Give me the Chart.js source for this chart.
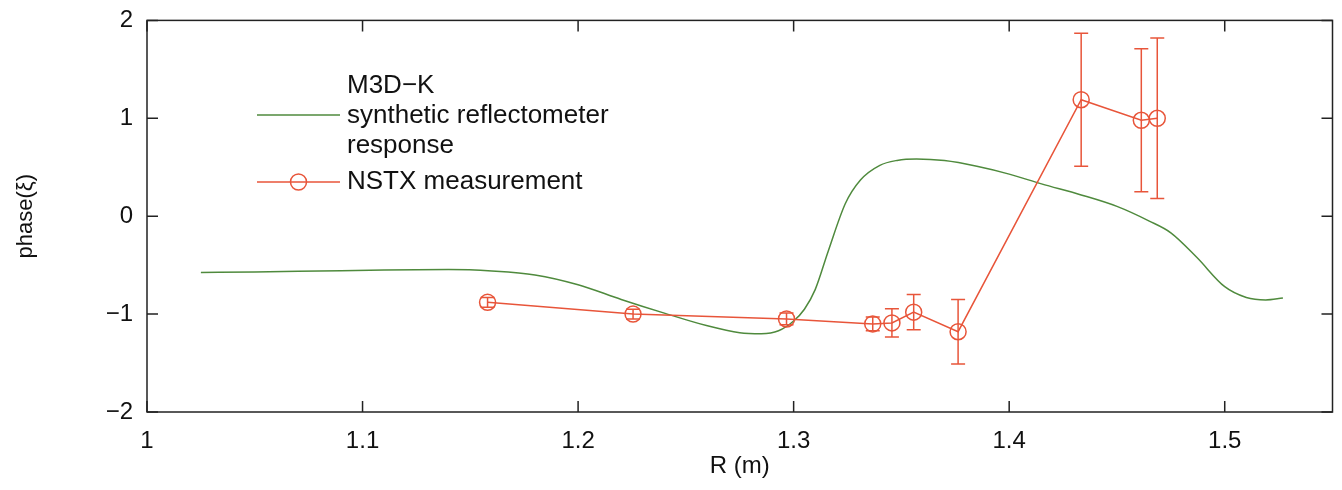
<!DOCTYPE html>
<html>
<head>
<meta charset="utf-8">
<script src="https://cdn.jsdelivr.net/npm/chart.js@4.4.1/dist/chart.umd.min.js"></script>
<style>
  html, body { margin: 0; padding: 0; background: #fff; }
  #wrap { width: 1342px; height: 490px; }
</style>
</head>
<body>
<div id="wrap"><canvas id="phaseChart" width="1342" height="490"></canvas></div>
<script>
// M3D-K synthetic reflectometer response (radius in m, phase)
const modelR = [1.025, 1.05, 1.08, 1.11, 1.14, 1.16, 1.18, 1.20, 1.22, 1.24, 1.26, 1.275, 1.285,
  1.293, 1.30, 1.305, 1.31, 1.316, 1.324, 1.331, 1.34, 1.348, 1.357, 1.37, 1.385, 1.40, 1.415,
  1.433, 1.45, 1.465, 1.475, 1.487, 1.50, 1.51, 1.519, 1.527];
const modelPhase = [-0.575, -0.57, -0.56, -0.55, -0.545, -0.56, -0.60, -0.70, -0.85, -0.99, -1.12, -1.19, -1.20,
  -1.17, -1.07, -0.95, -0.75, -0.36, 0.13, 0.37, 0.52, 0.57, 0.585, 0.568, 0.51, 0.43, 0.33,
  0.22, 0.10, -0.05, -0.17, -0.42, -0.72, -0.83, -0.855, -0.835];

// NSTX measurement with error bar half-widths
const measR = [1.158, 1.2255, 1.2967, 1.3367, 1.3456, 1.3557, 1.3763, 1.4334, 1.4613, 1.4687];
const measPhase = [-0.88, -1.00, -1.05, -1.10, -1.09, -0.98, -1.18, 1.19, 0.98, 1.00];
const measErr = [0.05, 0.05, 0.06, 0.07, 0.145, 0.18, 0.33, 0.68, 0.73, 0.82];

// axis ticks
const xTickValues = [1, 1.1, 1.2, 1.3, 1.4, 1.5];
const yTickValues = [-2, -1, 0, 1, 2];

const legendLines = ['M3D\u2212K', 'synthetic reflectometer', 'response'];
const legendMeas = 'NSTX measurement';

const GREEN = '#4f8a3d';
const RED = '#e8553a';
const FONT = '"Liberation Sans", Arial, Helvetica, sans-serif';

function fmtTick(v) {
  const s = String(Math.round(v * 100) / 100);
  return s.replace('-', '\u2212');
}

// box around the plot with inward ticks on all four sides
const framePlugin = {
  id: 'frame',
  afterDraw(chart) {
    const { ctx, chartArea: a, scales } = chart;
    const tl = 11;
    ctx.save();
    ctx.strokeStyle = '#222';
    ctx.lineWidth = 1.5;
    ctx.strokeRect(a.left, a.top, a.right - a.left, a.bottom - a.top);
    ctx.beginPath();
    xTickValues.forEach(v => {
      const x = scales.x.getPixelForValue(v);
      ctx.moveTo(x, a.bottom); ctx.lineTo(x, a.bottom - tl);
      ctx.moveTo(x, a.top); ctx.lineTo(x, a.top + tl);
    });
    yTickValues.forEach(v => {
      const y = scales.y.getPixelForValue(v);
      ctx.moveTo(a.left, y); ctx.lineTo(a.left + tl, y);
      ctx.moveTo(a.right, y); ctx.lineTo(a.right - tl, y);
    });
    ctx.stroke();
    ctx.restore();
  }
};

// vertical error bars with caps for the measurement series
const errorBarPlugin = {
  id: 'errorBars',
  afterDatasetsDraw(chart) {
    const { ctx, scales } = chart;
    const cap = 7;
    ctx.save();
    ctx.strokeStyle = RED;
    ctx.lineWidth = 1.5;
    ctx.beginPath();
    measR.forEach((r, i) => {
      const x = scales.x.getPixelForValue(r);
      const yTop = scales.y.getPixelForValue(measPhase[i] + measErr[i]);
      const yBot = scales.y.getPixelForValue(measPhase[i] - measErr[i]);
      ctx.moveTo(x, yTop); ctx.lineTo(x, yBot);
      ctx.moveTo(x - cap, yTop); ctx.lineTo(x + cap, yTop);
      ctx.moveTo(x - cap, yBot); ctx.lineTo(x + cap, yBot);
    });
    ctx.stroke();
    ctx.restore();
  }
};

// legend box in the upper left of the plot
const legendPlugin = {
  id: 'sideLegend',
  afterDraw(chart) {
    const ctx = chart.ctx;
    const x0 = 257, x1 = 340, tx = 347;
    ctx.save();
    ctx.lineWidth = 1.5;
    ctx.strokeStyle = GREEN;
    ctx.beginPath(); ctx.moveTo(x0, 115); ctx.lineTo(x1, 115); ctx.stroke();
    ctx.strokeStyle = RED;
    ctx.beginPath(); ctx.moveTo(x0, 182); ctx.lineTo(x1, 182); ctx.stroke();
    ctx.beginPath(); ctx.arc((x0 + x1) / 2, 182, 8, 0, Math.PI * 2); ctx.stroke();
    ctx.fillStyle = '#111';
    ctx.font = '26px ' + FONT;
    ctx.textBaseline = 'middle';
    ctx.textAlign = 'left';
    legendLines.forEach((t, i) => ctx.fillText(t, tx, 86 + i * 30));
    ctx.fillText(legendMeas, tx, 182);
    ctx.restore();
  }
};

const ctx = document.getElementById('phaseChart').getContext('2d');
new Chart(ctx, {
  type: 'line',
  data: {
    datasets: [
      {
        label: legendMeas,
        data: measR.map((r, i) => ({ x: r, y: measPhase[i] })),
        borderColor: RED,
        borderWidth: 1.5,
        pointRadius: 8,
        pointBorderWidth: 1.5,
        pointBorderColor: RED,
        pointBackgroundColor: 'rgba(0,0,0,0)',
        tension: 0
      },
      {
        label: legendLines.join(' '),
        data: modelR.map((r, i) => ({ x: r, y: modelPhase[i] })),
        borderColor: GREEN,
        borderWidth: 1.5,
        pointRadius: 0,
        cubicInterpolationMode: 'monotone'
      }
    ]
  },
  options: {
    responsive: false,
    animation: false,
    devicePixelRatio: 1,
    layout: { padding: { top: 18, right: 8, left: 0, bottom: 0 } },
    plugins: {
      legend: { display: false },
      tooltip: { enabled: false }
    },
    scales: {
      x: {
        type: 'linear',
        min: 1,
        max: 1.55,
        afterBuildTicks: s => { s.ticks = xTickValues.map(v => ({ value: v })); },
        afterFit: s => { s.height = 78; },
        grid: { display: false },
        border: { display: false },
        ticks: {
          color: '#111',
          font: { family: FONT, size: 24 },
          padding: 7,
          maxRotation: 0,
          callback: v => fmtTick(v)
        },
        title: {
          display: true,
          text: 'R (m)',
          color: '#111',
          font: { family: FONT, size: 24 },
          padding: { top: 0, bottom: 9 }
        }
      },
      y: {
        type: 'linear',
        min: -2,
        max: 2,
        afterBuildTicks: s => { s.ticks = yTickValues.map(v => ({ value: v })); },
        afterFit: s => { s.width = 147; },
        grid: { display: false },
        border: { display: false },
        ticks: {
          color: '#111',
          font: { family: FONT, size: 24 },
          padding: 6,
          callback: v => fmtTick(v)
        },
        title: {
          display: true,
          text: 'phase(\u03be)',
          color: '#111',
          font: { family: FONT, size: 22 },
          padding: { top: 13, bottom: 0 }
        }
      }
    }
  },
  plugins: [framePlugin, errorBarPlugin, legendPlugin]
});
</script>
</body>
</html>
